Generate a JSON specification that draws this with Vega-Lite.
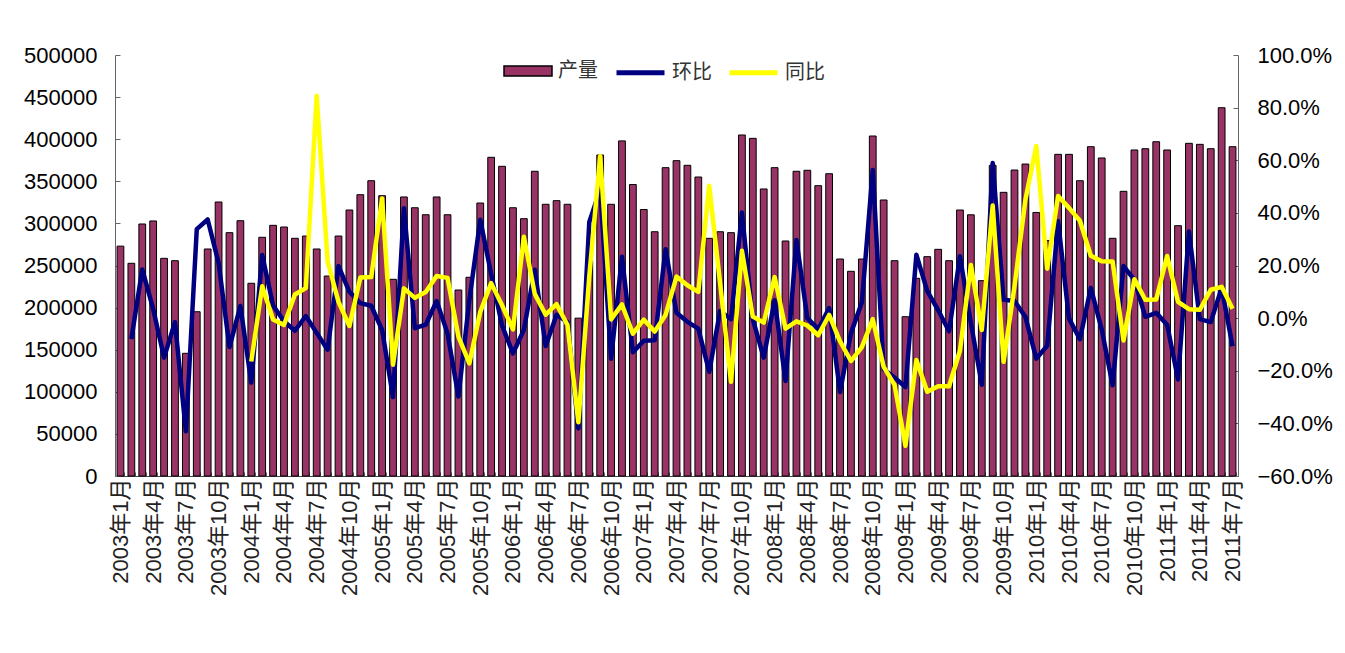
{
  "$schema": "https://vega.github.io/schema/vega-lite/v6.json",
  "width": 1123,
  "height": 421,
  "autosize": "none",
  "padding": {"left": 115, "top": 55, "right": 107, "bottom": 177},
  "background": "white",
  "config": {
    "view": {"stroke": null},
    "font": "Liberation Sans, Noto Sans CJK SC",
    "axis": {"grid": false, "labelColor": "#000000", "domainColor": "#666666", "tickColor": "#666666", "labelFont": "Liberation Sans, Noto Sans CJK SC"}
  },
  "data": {"values": [
    {"月份": "2003年1月", "产量": 273000, "环比": null, "同比": null},
    {"月份": "2003年2月", "产量": 252600, "环比": -0.080, "同比": null},
    {"月份": "2003年3月", "产量": 299300, "环比": 0.185, "同比": null},
    {"月份": "2003年4月", "产量": 302900, "环比": 0.035, "同比": null},
    {"月份": "2003年5月", "产量": 258500, "环比": -0.150, "同比": null},
    {"月份": "2003年6月", "产量": 255700, "环比": -0.015, "同比": null},
    {"月份": "2003年7月", "产量": 145700, "环比": -0.430, "同比": null},
    {"月份": "2003年8月", "产量": 195100, "环比": 0.338, "同比": null},
    {"月份": "2003年9月", "产量": 269600, "环比": 0.375, "同比": null},
    {"月份": "2003年10月", "产量": 325400, "环比": 0.210, "同比": null},
    {"月份": "2003年11月", "产量": 289000, "环比": -0.110, "同比": null},
    {"月份": "2003年12月", "产量": 303200, "环比": 0.046, "同比": null},
    {"月份": "2004年1月", "产量": 228900, "环比": -0.245, "同比": -0.165},
    {"月份": "2004年2月", "产量": 283500, "环比": 0.240, "同比": 0.121},
    {"月份": "2004年3月", "产量": 297700, "环比": 0.048, "同比": -0.005},
    {"月份": "2004年4月", "产量": 295700, "环比": -0.012, "同比": -0.026},
    {"月份": "2004年5月", "产量": 282300, "环比": -0.048, "同比": 0.090},
    {"月份": "2004年6月", "产量": 285000, "环比": 0.008, "同比": 0.114},
    {"月份": "2004年7月", "产量": 269600, "环比": -0.056, "同比": 0.845},
    {"月份": "2004年8月", "产量": 237500, "环比": -0.120, "同比": 0.216},
    {"月份": "2004年9月", "产量": 285000, "环比": 0.198, "同比": 0.062},
    {"月份": "2004年10月", "产量": 315900, "环比": 0.100, "同比": -0.030},
    {"月份": "2004年11月", "产量": 334100, "环比": 0.057, "同比": 0.154},
    {"月份": "2004年12月", "产量": 350700, "环比": 0.047, "同比": 0.156},
    {"月份": "2005年1月", "产量": 332900, "环比": -0.045, "同比": 0.455},
    {"月份": "2005年2月", "产量": 233600, "环比": -0.300, "同比": -0.177},
    {"月份": "2005年3月", "产量": 331400, "环比": 0.418, "同比": 0.113},
    {"月份": "2005年4月", "产量": 318600, "环比": -0.038, "同比": 0.077},
    {"月份": "2005年5月", "产量": 310300, "环比": -0.025, "同比": 0.099},
    {"月份": "2005年6月", "产量": 331400, "环比": 0.065, "同比": 0.160},
    {"月份": "2005年7月", "产量": 310300, "环比": -0.058, "同比": 0.153},
    {"月份": "2005年8月", "产量": 220900, "环比": -0.298, "同比": -0.070},
    {"月份": "2005年9月", "产量": 236000, "环比": 0.068, "同比": -0.172},
    {"月份": "2005年10月", "产量": 324200, "环比": 0.374, "同比": 0.023},
    {"月份": "2005年11月", "产量": 378500, "环比": 0.168, "同比": 0.133},
    {"月份": "2005年12月", "产量": 367800, "环比": -0.028, "同比": 0.049},
    {"月份": "2006年1月", "产量": 318600, "环比": -0.134, "同比": -0.043},
    {"月份": "2006年2月", "产量": 305600, "环比": -0.045, "同比": 0.309},
    {"月份": "2006年3月", "产量": 361900, "环比": 0.184, "同比": 0.092},
    {"月份": "2006年4月", "产量": 322700, "环比": -0.106, "同比": 0.013},
    {"月份": "2006年5月", "产量": 327000, "环比": 0.013, "同比": 0.053},
    {"月份": "2006年6月", "产量": 322700, "环比": -0.015, "同比": -0.026},
    {"月份": "2006年7月", "产量": 187500, "环比": -0.419, "同比": -0.396},
    {"月份": "2006年8月", "产量": 256000, "环比": 0.365, "同比": 0.159},
    {"月份": "2006年9月", "产量": 381200, "环比": 0.489, "同比": 0.615},
    {"月份": "2006年10月", "产量": 322700, "环比": -0.154, "同比": -0.005},
    {"月份": "2006年11月", "产量": 398000, "环比": 0.233, "同比": 0.052},
    {"月份": "2006年12月", "产量": 346200, "环比": -0.130, "同比": -0.059},
    {"月份": "2007年1月", "产量": 316500, "环比": -0.086, "同比": -0.006},
    {"月份": "2007年2月", "产量": 290100, "环比": -0.084, "同比": -0.051},
    {"月份": "2007年3月", "产量": 366200, "环比": 0.262, "同比": 0.012},
    {"月份": "2007年4月", "产量": 374500, "环比": 0.020, "同比": 0.158},
    {"月份": "2007年5月", "产量": 369000, "环比": -0.014, "同比": 0.125},
    {"月份": "2007年6月", "产量": 355100, "环比": -0.040, "同比": 0.100},
    {"月份": "2007年7月", "产量": 282300, "环比": -0.204, "同比": 0.503},
    {"月份": "2007年8月", "产量": 290100, "环比": 0.027, "同比": 0.133},
    {"月份": "2007年9月", "产量": 289000, "环比": -0.004, "同比": -0.242},
    {"月份": "2007年10月", "产量": 405000, "环比": 0.401, "同比": 0.256},
    {"月份": "2007年11月", "产量": 401000, "环比": -0.005, "同比": 0.006},
    {"月份": "2007年12月", "产量": 340900, "环比": -0.150, "同比": -0.017},
    {"月份": "2008年1月", "产量": 366200, "环比": 0.068, "同比": 0.156},
    {"月份": "2008年2月", "产量": 279100, "环比": -0.239, "同比": -0.040},
    {"月份": "2008年3月", "产量": 361900, "环比": 0.297, "同比": -0.012},
    {"月份": "2008年4月", "产量": 363100, "环比": 0.000, "同比": -0.028},
    {"月份": "2008年5月", "产量": 344800, "环比": -0.042, "同比": -0.065},
    {"月份": "2008年6月", "产量": 359000, "环比": 0.038, "同比": 0.012},
    {"月份": "2008年7月", "产量": 257700, "环比": -0.281, "同比": -0.088},
    {"月份": "2008年8月", "产量": 243100, "环比": -0.057, "同比": -0.163},
    {"月份": "2008年9月", "产量": 257700, "环比": 0.059, "同比": -0.110},
    {"月份": "2008年10月", "产量": 403800, "环比": 0.563, "同比": -0.004},
    {"月份": "2008年11月", "产量": 327800, "环比": -0.194, "同比": -0.185},
    {"月份": "2008年12月", "产量": 255700, "环比": -0.226, "同比": -0.254},
    {"月份": "2009年1月", "产量": 189200, "环比": -0.262, "同比": -0.485},
    {"月份": "2009年2月", "产量": 234800, "环比": 0.241, "同比": -0.159},
    {"月份": "2009年3月", "产量": 260500, "环比": 0.103, "同比": -0.280},
    {"月份": "2009年4月", "产量": 269200, "环比": 0.030, "同比": -0.259},
    {"月份": "2009年5月", "产量": 255700, "环比": -0.050, "同比": -0.259},
    {"月份": "2009年6月", "产量": 315900, "环比": 0.235, "同比": -0.123},
    {"月份": "2009年7月", "产量": 310200, "环比": -0.018, "同比": 0.202},
    {"月份": "2009年8月", "产量": 232000, "环比": -0.253, "同比": -0.045},
    {"月份": "2009年9月", "产量": 369000, "环比": 0.590, "同比": 0.428},
    {"月份": "2009年10月", "产量": 336900, "环比": 0.070, "同比": -0.166},
    {"月份": "2009年11月", "产量": 363400, "环比": 0.065, "同比": 0.120},
    {"月份": "2009年12月", "产量": 370500, "环比": 0.005, "同比": 0.450},
    {"月份": "2010年1月", "产量": 313000, "环比": -0.154, "同比": 0.654},
    {"月份": "2010年2月", "产量": 279600, "环比": -0.105, "同比": 0.188},
    {"月份": "2010年3月", "产量": 382000, "环比": 0.368, "同比": 0.464},
    {"月份": "2010年4月", "产量": 382000, "环比": -0.002, "同比": 0.419},
    {"月份": "2010年5月", "产量": 350700, "环比": -0.080, "同比": 0.370},
    {"月份": "2010年6月", "产量": 391100, "环比": 0.115, "同比": 0.237},
    {"月份": "2010年7月", "产量": 377700, "环比": -0.043, "同比": 0.216},
    {"月份": "2010年8月", "产量": 282300, "环比": -0.255, "同比": 0.215},
    {"月份": "2010年9月", "产量": 338100, "环比": 0.198, "同比": -0.085},
    {"月份": "2010年10月", "产量": 387200, "环比": 0.145, "同比": 0.148},
    {"月份": "2010年11月", "产量": 388700, "环比": 0.005, "同比": 0.070},
    {"月份": "2010年12月", "产量": 397000, "环比": 0.020, "同比": 0.071},
    {"月份": "2011年1月", "产量": 387200, "环比": -0.025, "同比": 0.236},
    {"月份": "2011年2月", "产量": 297300, "环比": -0.233, "同比": 0.062},
    {"月份": "2011年3月", "产量": 395100, "环比": 0.329, "同比": 0.034},
    {"月份": "2011年4月", "产量": 393900, "环比": -0.004, "同比": 0.032},
    {"月份": "2011年5月", "产量": 388700, "环比": -0.015, "同比": 0.108},
    {"月份": "2011年6月", "产量": 437400, "环比": 0.115, "同比": 0.119},
    {"月份": "2011年7月", "产量": 391100, "环比": -0.107, "同比": 0.036}
  ]},
  "encoding": {
    "x": {
      "field": "月份", "type": "ordinal", "sort": null,
      "scale": {"paddingInner": 0.38, "paddingOuter": 0.19},
      "axis": {
        "title": null, "labelAngle": -90, "labelFontSize": 22, "labelPadding": 6,
        "labelOverlap": false, "labelColor": "#222222",
        "labelExpr": "(indexof(datum.label,'年1月')>0 || indexof(datum.label,'年4月')>0 || indexof(datum.label,'年7月')>0 || indexof(datum.label,'年10月')>0) ? datum.label : ''",
        "tickBand": "extent", "tickSize": -4, "domainColor": "#444444"
      }
    }
  },
  "layer": [
    {
      "mark": {"type": "bar", "stroke": "#000000", "strokeWidth": 1},
      "encoding": {
        "y": {
          "field": "产量", "type": "quantitative",
          "scale": {"domain": [0, 500000]},
          "axis": {"title": null, "values": [0, 50000, 100000, 150000, 200000, 250000, 300000, 350000, 400000, 450000, 500000], "format": "d", "labelFontSize": 22, "tickSize": -5, "labelPadding": 23}
        },
        "fill": {
          "datum": "产量",
          "scale": {"domain": ["产量"], "range": ["#993366"]},
          "legend": {
            "title": null, "orient": "none", "legendX": 388, "legendY": -9, "direction": "horizontal",
            "padding": 0, "symbolSize": 2304, "symbolType": "M-1,-0.21H1V0.21H-1Z",
            "symbolStrokeColor": "#000000", "symbolStrokeWidth": 1.5, "symbolOpacity": 1,
            "labelFontSize": 20, "labelFont": "Noto Sans CJK SC", "labelColor": "#333333", "labelOffset": 5
          }
        }
      }
    },
    {
      "encoding": {
        "y": {
          "type": "quantitative",
          "scale": {"domain": [-0.6, 1.0]},
          "axis": {"title": null, "orient": "right", "values": [-0.6, -0.4, -0.2, 0, 0.2, 0.4, 0.6, 0.8, 1.0], "format": ".1%", "labelFontSize": 22, "tickSize": -5, "labelPadding": 24}
        }
      },
      "layer": [
        {
          "mark": {"type": "line", "strokeWidth": 4.5, "strokeJoin": "round"},
          "encoding": {
            "y": {"field": "环比", "type": "quantitative"},
            "stroke": {
              "datum": "环比",
              "scale": {"domain": ["环比", "同比"], "range": ["#000080", "#FFFF00"]},
              "legend": {
                "title": null, "orient": "none", "legendX": 499, "legendY": -9, "direction": "horizontal",
                "padding": 0, "symbolSize": 2304, "symbolType": "stroke", "symbolStrokeWidth": 5,
                "labelFontSize": 20, "labelFont": "Noto Sans CJK SC", "labelColor": "#333333", "labelOffset": 5,
                "columnPadding": 7
              }
            }
          }
        },
        {
          "mark": {"type": "line", "strokeWidth": 4.5, "strokeJoin": "round"},
          "encoding": {"y": {"field": "同比", "type": "quantitative"}, "stroke": {"datum": "同比"}}
        }
      ]
    }
  ],
  "resolve": {"scale": {"y": "independent"}}
}
